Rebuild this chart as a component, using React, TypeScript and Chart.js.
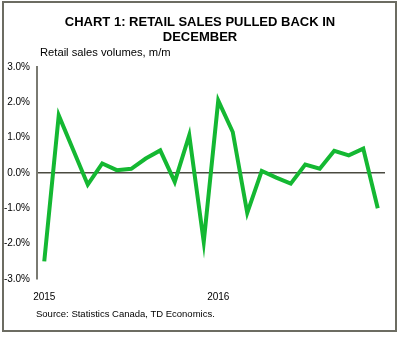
import React, { useEffect, useRef } from "react";
import { Chart, registerables } from "chart.js";

Chart.register(...registerables);

const months = [
  "Jan 2015", "Feb 2015", "Mar 2015", "Apr 2015", "May 2015", "Jun 2015",
  "Jul 2015", "Aug 2015", "Sep 2015", "Oct 2015", "Nov 2015", "Dec 2015",
  "Jan 2016", "Feb 2016", "Mar 2016", "Apr 2016", "May 2016", "Jun 2016",
  "Jul 2016", "Aug 2016", "Sep 2016", "Oct 2016", "Nov 2016", "Dec 2016",
];
const salesChange = [
  -2.5, 1.63, 0.65, -0.33, 0.27, 0.08, 0.12, 0.41, 0.64, -0.25, 1.07, -1.95,
  2.05, 1.16, -1.13, 0.06, -0.13, -0.3, 0.24, 0.12, 0.63, 0.5, 0.69, -1.0,
];
const yTicks = [-3, -2, -1, 0, 1, 2, 3];
const yearLabels: Record<string, string> = { "Jan 2015": "2015", "Jan 2016": "2016" };

const FONT = "'Liberation Sans', Arial, sans-serif";

export default function App() {
  const canvasRef = useRef<HTMLCanvasElement | null>(null);

  useEffect(() => {
    if (!canvasRef.current) return;
    const chart = new Chart(canvasRef.current, {
      type: "line",
      data: {
        labels: months,
        datasets: [
          {
            data: salesChange,
            borderColor: "#14b832",
            borderWidth: 4,
            pointRadius: 0,
            tension: 0,
            fill: false,
            borderJoinStyle: "miter",
          },
        ],
      },
      options: {
        animation: false,
        responsive: false,
        maintainAspectRatio: false,
        layout: { padding: { top: 67, right: 15, bottom: 0, left: 0 } },
        plugins: { legend: { display: false }, tooltip: { enabled: false }, title: { display: false } },
        scales: {
          x: {
            type: "category",
            offset: true,
            grid: { display: false, drawTicks: false },
            border: { display: false },
            ticks: {
              autoSkip: false,
              maxRotation: 0,
              minRotation: 0,
              padding: 12,
              color: "#000",
              font: { family: FONT, size: 10 },
              callback: (_v: any, i: number) => yearLabels[months[i]] ?? "",
            },
            afterFit: (s: any) => {
              s.height = 58;
            },
          },
          y: {
            min: -3,
            max: 3,
            afterBuildTicks: (s: any) => {
              s.ticks = yTicks.map((v) => ({ value: v }));
            },
            grid: {
              drawTicks: false,
              lineWidth: 1.5,
              color: (ctx: any) => (ctx.tick && ctx.tick.value === 0 ? "#4a4a40" : "rgba(0,0,0,0)"),
            },
            border: { display: true, color: "#7a7a72", width: 2 },
            ticks: {
              padding: 7,
              color: "#000",
              font: { family: FONT, size: 10 },
              callback: (v: any) => Number(v).toFixed(1) + "%",
            },
            afterFit: (s: any) => {
              s.width = 37;
            },
          },
        },
      },
    });
    return () => chart.destroy();
  }, []);

  return (
    <div style={{ position: "absolute", left: 0, top: 0, width: 400, height: 337, background: "#fff", fontFamily: FONT }}>
      <div
        style={{
          position: "absolute",
          left: 2,
          top: 1,
          width: 391,
          height: 327,
          border: "2px solid #6c6c62",
        }}
      />
      <canvas ref={canvasRef} width={400} height={337} style={{ position: "absolute", left: 0, top: 0, width: 400, height: 337 }} />
      <div
        style={{
          position: "absolute",
          left: 0,
          top: 14,
          width: 400,
          textAlign: "center",
          fontWeight: "bold",
          fontSize: 13,
          lineHeight: "15px",
          color: "#000",
        }}
      >
        CHART 1: RETAIL SALES PULLED BACK IN
        <br />
        DECEMBER
      </div>
      <div style={{ position: "absolute", left: 40, top: 45, fontSize: 11.2, lineHeight: "15px", color: "#000" }}>
        Retail sales volumes, m/m
      </div>
      <div style={{ position: "absolute", left: 36, top: 307, fontSize: 9.5, lineHeight: "14px", color: "#000" }}>
        Source: Statistics Canada, TD Economics.
      </div>
    </div>
  );
}
